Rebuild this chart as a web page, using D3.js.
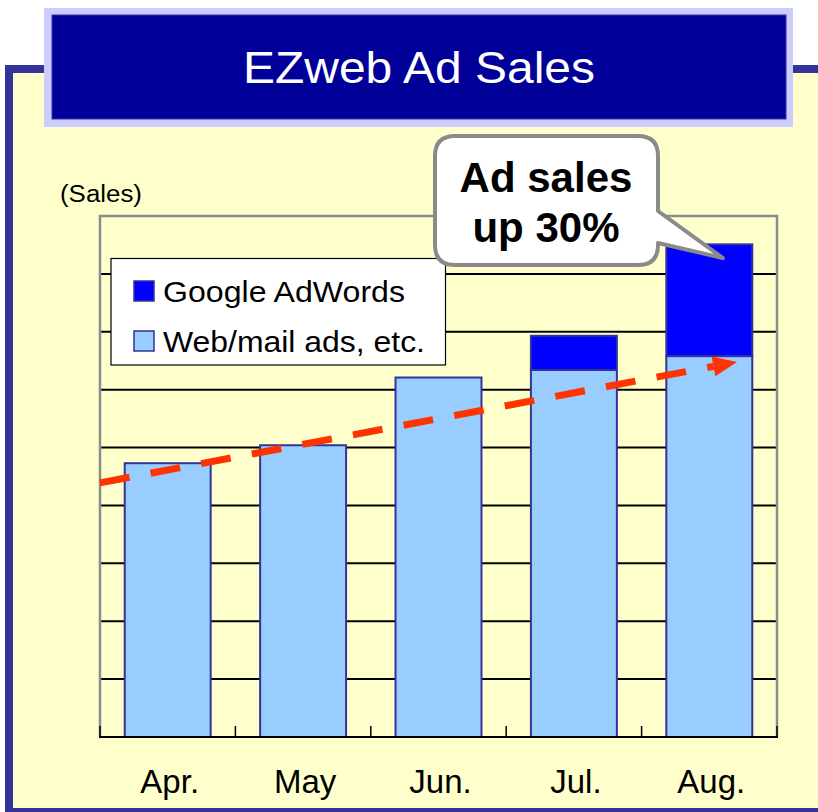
<!DOCTYPE html>
<html>
<head>
<meta charset="utf-8">
<script src="https://cdn.jsdelivr.net/npm/d3@7"></script>
<style>
  html, body { margin: 0; padding: 0; background: #ffffff; }
  svg { display: block; }
  text { font-family: "Liberation Sans", Arial, Helvetica, sans-serif; }
</style>
</head>
<body>
<svg id="chart" width="818" height="812"></svg>
<script>
// ---- data ----
const months = ["Apr.", "May", "Jun.", "Jul.", "Aug."];
const webMailAds = [4.73, 5.04, 6.21, 6.34, 6.58];
const googleAdWords = [0, 0, 0, 0.59, 1.93];
const seriesNames = ["Web/mail ads, etc.", "Google AdWords"];
const legendOrder = ["Google AdWords", "Web/mail ads, etc."];
const yMax = 9;
const gridValues = [1, 2, 3, 4, 5, 6, 7, 8];
const titleText = "EZweb Ad Sales";
const yAxisLabel = "(Sales)";
const calloutLines = ["Ad sales", "up 30%"];
// trend arrow: start at left edge of plot, ends inside the Aug. band
const trendStartValue = 4.39;
const trendEndValue = 6.48;
const trendEndMonth = "Aug.";
const trendEndFrac = 0.705;

// ---- layout ----
const W = 818, H = 812;
const plot = { left: 100, right: 777, top: 216, bottom: 737 };
const colors = {
  cream: "#FFFFCC", frame: "#333399", titleOuter: "#CCCCFF", titleInner: "#000099",
  web: "#99CCFF", google: "#0000FF", barStroke: "#333399", arrow: "#FF3300",
  plotBorder: "#8C8C8C", callStroke: "#8A8A8A"
};

const svg = d3.select("#chart");

// outer frame
svg.append("rect").attr("x", 5).attr("y", 65).attr("width", 900).attr("height", 900).attr("fill", colors.frame);
svg.append("rect").attr("x", 13).attr("y", 73).attr("width", 900).attr("height", 735).attr("fill", colors.cream);

// title box
svg.append("rect").attr("x", 44).attr("y", 8).attr("width", 749).attr("height", 119).attr("fill", colors.titleOuter);
svg.append("rect").attr("x", 52).attr("y", 15).attr("width", 734).attr("height", 104).attr("fill", colors.titleInner)
  .attr("stroke", "#3333AA").attr("stroke-width", 1);
svg.append("text").attr("x", 419).attr("y", 83).attr("text-anchor", "middle")
  .attr("fill", "#ffffff").attr("font-size", 44)
  .attr("textLength", 352).attr("lengthAdjust", "spacingAndGlyphs")
  .text(titleText);

// scales
const x = d3.scaleBand().domain(months).range([plot.left, plot.right]).padding(0);
const y = d3.scaleLinear().domain([0, yMax]).range([plot.bottom, plot.top]);
const barFrac = 0.635;
const barW = x.bandwidth() * barFrac;
const barOff = (x.bandwidth() - barW) / 2;

// y label
svg.append("text").attr("x", 60).attr("y", 202).attr("font-size", 23)
  .attr("textLength", 82).attr("lengthAdjust", "spacingAndGlyphs")
  .attr("fill", "#000").text(yAxisLabel);

// gridlines
const g = svg.append("g");
g.selectAll("line.grid").data(gridValues).join("line").attr("class", "grid")
  .attr("x1", plot.left).attr("x2", plot.right)
  .attr("y1", d => y(d)).attr("y2", d => y(d))
  .attr("stroke", "#000").attr("stroke-width", 2);

// plot border (left, top, right) grey
g.append("path")
  .attr("d", `M${plot.left},${plot.bottom} V${y(yMax)} H${plot.right} V${plot.bottom}`)
  .attr("fill", "none").attr("stroke", colors.plotBorder).attr("stroke-width", 2.5);

// x axis with ticks at category boundaries (pointing up)
const boundaries = months.map(m => x(m)).concat([plot.right]);
g.selectAll("line.tick").data(boundaries).join("line").attr("class", "tick")
  .attr("x1", d => d).attr("x2", d => d)
  .attr("y1", plot.bottom).attr("y2", plot.bottom - 11)
  .attr("stroke", "#000").attr("stroke-width", 1.5);

// stacked bars
const table = months.map((m, i) => ({ month: m, "Web/mail ads, etc.": webMailAds[i], "Google AdWords": googleAdWords[i] }));
const stack = d3.stack().keys(seriesNames)(table);
const fillFor = { "Web/mail ads, etc.": colors.web, "Google AdWords": colors.google };
const bars = svg.append("g");
stack.forEach(layer => {
  bars.selectAll(null).data(layer.filter(d => d[1] - d[0] > 0)).join("rect")
    .attr("x", d => x(d.data.month) + barOff)
    .attr("width", barW)
    .attr("y", d => y(d[1]))
    .attr("height", d => y(d[0]) - y(d[1]))
    .attr("fill", fillFor[layer.key])
    .attr("stroke", colors.barStroke).attr("stroke-width", 2);
});

// x axis line on top
svg.append("line").attr("x1", plot.left - 1).attr("x2", plot.right + 1)
  .attr("y1", plot.bottom).attr("y2", plot.bottom)
  .attr("stroke", "#000").attr("stroke-width", 2);

// month labels
svg.selectAll("text.month").data(months).join("text").attr("class", "month")
  .attr("x", d => x(d) + x.bandwidth() / 2 + 2).attr("y", 793)
  .attr("text-anchor", "middle").attr("font-size", 33).attr("fill", "#000")
  .text(d => d);

// legend
const lg = svg.append("g");
lg.append("rect").attr("x", 111).attr("y", 258.5).attr("width", 334.5).attr("height", 106.5)
  .attr("fill", "#fff").attr("stroke", "#000").attr("stroke-width", 1.2);
legendOrder.forEach((name, i) => {
  const yy = 281 + i * 50;
  lg.append("rect").attr("x", 134).attr("y", yy).attr("width", 20).attr("height", 20)
    .attr("fill", fillFor[name]).attr("stroke", colors.barStroke).attr("stroke-width", 1.5);
  lg.append("text").attr("x", 163).attr("y", yy + 21).attr("font-size", 30).attr("fill", "#000")
    .attr("textLength", i === 0 ? 242 : 262).attr("lengthAdjust", "spacingAndGlyphs")
    .text(name);
});

// trend arrow (dashed)
const x0 = plot.left, y0 = y(trendStartValue);
const x1 = x(trendEndMonth) + x.bandwidth() * trendEndFrac, y1 = y(trendEndValue);
const ang = Math.atan2(y1 - y0, x1 - x0);
const headLen = 24, headHalf = 10;
const bx = x1 - headLen * Math.cos(ang), by = y1 - headLen * Math.sin(ang);
svg.append("line").attr("x1", x0).attr("y1", y0).attr("x2", bx).attr("y2", by)
  .attr("stroke", colors.arrow).attr("stroke-width", 7).attr("stroke-dasharray", "30,21.5");
const px = -Math.sin(ang), py = Math.cos(ang);
svg.append("path")
  .attr("d", `M${x1},${y1} L${bx + px * headHalf},${by + py * headHalf} L${bx - px * headHalf},${by - py * headHalf} Z`)
  .attr("fill", colors.arrow);

// callout
const cL = 435, cT = 136, cR = 658, cB = 265, r = 20;
const tipX = x(trendEndMonth) + x.bandwidth() * 0.6, tipY = 258;
const calloutPath = `M${cL + r},${cT} H${cR - r} Q${cR},${cT} ${cR},${cT + r} V211 L${tipX},${tipY} L${cR},243 V${cB - r} Q${cR},${cB} ${cR - r},${cB} H${cL + r} Q${cL},${cB} ${cL},${cB - r} V${cT + r} Q${cL},${cT} ${cL + r},${cT} Z`;
svg.append("path").attr("d", calloutPath).attr("fill", "#fff")
  .attr("stroke", colors.callStroke).attr("stroke-width", 4).attr("stroke-linejoin", "round");
calloutLines.forEach((t, i) => {
  svg.append("text").attr("x", 546).attr("y", 192 + i * 50).attr("text-anchor", "middle")
    .attr("font-size", 42).attr("font-weight", "bold").attr("fill", "#000").text(t);
});
</script>
</body>
</html>
